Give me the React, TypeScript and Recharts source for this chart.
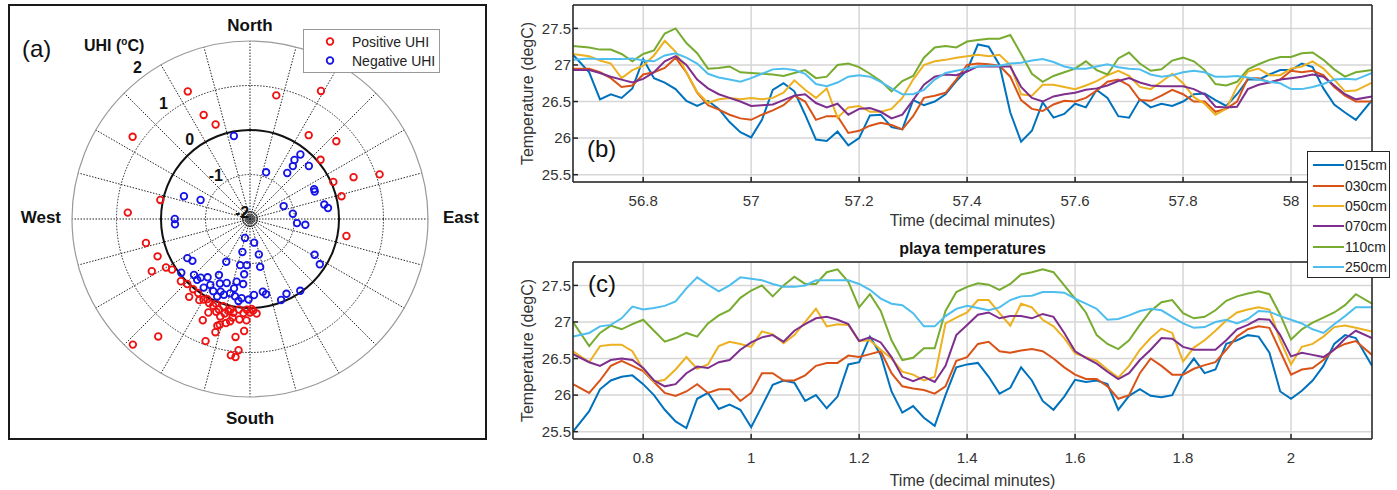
import React from "react";
import {
  CartesianGrid,
  Label,
  Legend,
  Line,
  LineChart,
  PolarAngleAxis,
  PolarGrid,
  PolarRadiusAxis,
  Radar,
  RadarChart,
  Scatter,
  ScatterChart,
  XAxis,
  YAxis,
} from "recharts";

// ---------- panel (a): UHI by wind direction ----------
const compass = ["North", "East", "South", "West"];
const uhiTicks = [-2, -1, 0, 1, 2];
const spokeAngles = [0, 15, 30, 45, 60, 75, 90, 105, 120, 135, 150, 165, 180, 195, 210, 225, 240, 255, 270, 285, 300, 315, 330, 345];
const uhiGroups = ["Positive UHI", "Negative UHI"];

// [direction (deg from north, clockwise), UHI degC]
const positiveUhi: [number, number][] = [
  [334, 1.19], [12, 0.84], [29, 1.29], [336, 0.56], [340, 0.26], [305, 1.22],
  [35, 0.3], [48, 0.61], [50, 0.07], [68, 0.51], [71, 1.08], [66, 0.05],
  [76, 0.12], [100, 0.2], [282, 0.06], [273, 0.75], [257, 0.4], [248, 0.24],
  [242, 0.5], [240, 0.18], [237, 0.09], [228, 0.09], [224, 0.03], [218, 0.22],
  [215, 0.03], [223, 1.86], [218, 1.35], [200, 0.92], [205, 0.51], [197, 0.51],
  [197, 0.66], [196, 0.47], [191, 0.34], [186, 0.27], [182, 0.28], [176, 0.13],
  [183, 0.52], [187, 0.67], [188, 1.09], [186, 1.12], [185, 0.96], [182, 0.04],
  [210, 0.09], [206, 0.1], [203, 0.12], [199, 0.15], [197, 0.05], [193, 0.13],
  [190, 0.14], [187, 0.05], [184, 0.12], [179, 0.02], [197, 0.29], [190, 0.25],
  [219, 0.03], [208, 0.04], [202, 0.05], [195, 0.2], [192, 0.08], [200, 0.22],
  [212, 0.15], [180, 0.1], [178, 0.06], [204, 0.3], [193, 0.4],
];

const negativeUhi: [number, number][] = [
  [349, -0.1], [19, -0.89], [39, -0.67], [39, -0.47], [37, -0.34], [38, -0.16],
  [48, -0.22], [65, -0.41], [67, -0.42], [79, -0.3], [82, -0.23], [69, -1.19],
  [83, -1.03], [95, -0.94], [96, -0.75], [289, -0.43], [291, -0.81], [270, -0.31],
  [266, -0.31], [195, -1.56], [170, -1.46], [193, -1.24], [166, -1.18], [238, -0.34],
  [234, -0.4], [209, -0.9], [192, -0.94], [184, -0.96], [168, -0.9], [186, -0.75],
  [119, -0.34], [123, -0.13], [145, -0.03], [154, -0.13], [159, -0.05], [170, -0.34],
  [168, -0.27], [177, -0.29], [232, -0.04], [225, -0.22], [220, -0.28], [216, -0.38],
  [209, -0.56], [205, -0.4], [214, -0.14], [207, -0.18], [202, -0.24], [195, -0.27],
  [192, -0.56], [186, -0.53], [221, -0.19], [191, -0.23], [186, -0.21], [181, -0.19],
  [200, -0.47], [193, -0.4], [199, -0.2], [203, -0.11], [188, -0.14], [211, -0.27],
];

// ---------- panels (b) and (c): playa temperatures ----------
const depths = ["015cm", "030cm", "050cm", "070cm", "110cm", "250cm"];
const depthColors = ["#0072BD", "#D95319", "#EDB120", "#7E2F8E", "#77AC30", "#4DBEEE"];
const tempTicks = [25.5, 26, 26.5, 27, 27.5];
const ticksB = [56.8, 57, 57.2, 57.4, 57.6, 57.8, 58];
const ticksC = [0.8, 1, 1.2, 1.4, 1.6, 1.8, 2];

const timesB = [
  56.67, 56.7, 56.72, 56.74, 56.76, 56.78, 56.8, 56.82, 56.84, 56.86,
  56.88, 56.9, 56.92, 56.94, 56.96, 56.98, 57, 57.02, 57.04, 57.06,
  57.08, 57.1, 57.12, 57.14, 57.16, 57.18, 57.2, 57.22, 57.24, 57.26,
  57.28, 57.3, 57.32, 57.34, 57.36, 57.38, 57.4, 57.42, 57.44, 57.46,
  57.48, 57.5, 57.52, 57.54, 57.56, 57.58, 57.6, 57.62, 57.64, 57.66,
  57.68, 57.7, 57.72, 57.74, 57.76, 57.78, 57.8, 57.82, 57.84, 57.86,
  57.88, 57.9, 57.92, 57.94, 57.96, 57.98, 58, 58.02, 58.04, 58.06,
  58.08, 58.1, 58.12, 58.15,
];

const b015 = [
  27.14, 26.9, 26.53, 26.6, 26.55, 26.68, 27.08, 26.82, 26.76, 26.67,
  26.51, 26.44, 26.51, 26.4, 26.22, 26.08, 26.01, 26.25, 26.66, 26.75,
  26.64, 26.32, 25.98, 25.96, 26.09, 25.9, 26.0, 26.31, 26.32, 26.15,
  26.12, 26.52, 26.45, 26.5, 26.6, 26.78, 26.93, 27.28, 27.25, 27.0,
  26.35, 25.95, 26.1, 26.49, 26.28, 26.33, 26.47, 26.42, 26.66, 26.55,
  26.3, 26.28, 26.53, 26.42, 26.47, 26.44, 26.5, 26.6, 26.61, 26.52,
  26.44, 26.6, 26.8, 26.8, 26.87, 26.93, 26.93, 27.02, 26.97, 26.68,
  26.46, 26.35, 26.25, 26.52,
];
const b030 = [
  26.95, 26.95, 26.9, 26.82, 26.7, 26.72, 26.87, 26.9, 26.96, 27.1,
  26.9, 26.62, 26.45, 26.39, 26.32, 26.27, 26.25, 26.32, 26.38, 26.45,
  26.58, 26.5, 26.25, 26.3, 26.3, 26.07, 26.1, 26.17, 26.21, 26.18,
  26.12, 26.3, 26.55, 26.58, 26.62, 26.8, 27.0, 27.02, 27.01, 26.99,
  26.84, 26.52, 26.4, 26.37, 26.46, 26.51, 26.5, 26.55, 26.65, 26.77,
  26.8, 26.72, 26.52, 26.51, 26.58, 26.66, 26.6, 26.5, 26.5, 26.36,
  26.4, 26.5, 26.82, 26.82, 26.76, 26.8, 26.92, 26.9, 26.92, 26.86,
  26.7, 26.58, 26.5, 26.5,
];
const b050 = [
  27.15, 27.12, 27.06, 27.02, 26.82, 26.93, 26.99, 27.13, 27.33, 27.18,
  26.9, 26.63, 26.48, 26.53, 26.55, 26.53, 26.55, 26.53, 26.55, 26.62,
  26.79, 26.66, 26.55, 26.68, 26.28, 26.42, 26.44, 26.36, 26.36, 26.4,
  26.55, 26.8, 27.0, 27.05, 27.07, 27.1, 27.12, 27.14, 27.12, 27.14,
  27.0, 26.6, 26.58, 26.73, 26.73, 26.7, 26.67, 26.72, 26.78, 26.86,
  26.92, 26.85, 26.7, 26.67, 26.77, 26.88, 26.75, 26.56, 26.47, 26.32,
  26.4, 26.7, 26.91, 26.95, 26.86, 26.86, 26.95, 26.98, 27.05, 26.95,
  26.8, 26.64, 26.65, 26.76,
];
const b070 = [
  26.93, 26.93, 26.89, 26.84, 26.8, 26.76, 26.81, 26.9, 27.05, 27.12,
  27.0, 26.8, 26.68, 26.6, 26.55, 26.5, 26.44, 26.45, 26.46, 26.52,
  26.58, 26.6, 26.48, 26.42, 26.47, 26.32, 26.4, 26.41, 26.36, 26.27,
  26.32, 26.52, 26.73, 26.84, 26.87, 26.86, 26.91, 26.98, 26.98, 26.98,
  26.98, 26.7, 26.55, 26.5, 26.57, 26.6, 26.62, 26.66, 26.68, 26.72,
  26.78, 26.82, 26.76, 26.72, 26.71, 26.71, 26.71, 26.67, 26.6, 26.43,
  26.42, 26.43, 26.67, 26.73, 26.76, 26.8, 26.82, 26.84, 26.87, 26.84,
  26.72, 26.6, 26.53, 26.57,
];
const b110 = [
  27.26, 27.24, 27.21, 27.21, 27.15, 27.05, 27.15, 27.2, 27.43, 27.5,
  27.3, 27.16, 26.95, 26.96, 26.98, 26.9, 26.89, 26.88, 26.87, 26.85,
  26.89, 26.93, 26.82, 26.84, 27.0, 27.02, 26.97, 26.88, 26.78, 26.64,
  26.78, 26.85, 27.1, 27.24, 27.26, 27.24, 27.32, 27.34, 27.36, 27.36,
  27.41, 27.15, 26.88, 26.77, 26.85, 26.9, 26.95, 27.05, 26.93, 26.87,
  27.09, 27.17, 27.02, 26.92, 26.94, 27.06, 27.1, 27.05, 26.93, 26.74,
  26.72, 26.77, 26.94, 27.01, 27.07, 27.11, 27.11, 27.16, 27.17, 27.07,
  26.94, 26.84, 26.9, 26.93,
];
const b250 = [
  27.07, 27.09, 27.08, 27.08, 27.08, 27.09, 27.06, 27.05, 27.13, 27.16,
  27.1, 27.02, 26.88, 26.83, 26.8, 26.77, 26.82, 26.88, 26.94, 26.95,
  26.93, 26.88, 26.74, 26.71, 26.76, 26.84, 26.86, 26.84, 26.77, 26.68,
  26.6, 26.6, 26.66, 26.8, 26.89, 26.92, 26.95, 26.98, 26.99, 26.99,
  27.02, 27.03, 27.06, 27.08, 27.04, 26.98, 26.95, 26.95, 26.98, 27.01,
  26.97, 26.95, 26.94, 26.87, 26.84, 26.86, 26.9, 26.92, 26.9, 26.84,
  26.84, 26.85, 26.83, 26.8, 26.77, 26.75, 26.67, 26.67, 26.7, 26.74,
  26.8, 26.81, 26.8, 26.89,
];

const timesC = [
  0.67, 0.7, 0.72, 0.74, 0.76, 0.78, 0.8, 0.82, 0.84, 0.86,
  0.88, 0.9, 0.92, 0.94, 0.96, 0.98, 1, 1.02, 1.04, 1.06,
  1.08, 1.1, 1.12, 1.14, 1.16, 1.18, 1.2, 1.22, 1.24, 1.26,
  1.28, 1.3, 1.32, 1.34, 1.36, 1.38, 1.4, 1.42, 1.44, 1.46,
  1.48, 1.5, 1.52, 1.54, 1.56, 1.58, 1.6, 1.62, 1.64, 1.66,
  1.68, 1.7, 1.72, 1.74, 1.76, 1.78, 1.8, 1.82, 1.84, 1.86,
  1.88, 1.9, 1.92, 1.94, 1.96, 1.98, 2, 2.02, 2.04, 2.06,
  2.08, 2.1, 2.12, 2.15,
];

const c015 = [
  25.5, 25.78, 26.08, 26.2, 26.25, 26.27, 26.15, 26.0, 25.8, 25.64,
  25.55, 25.95, 26.03, 25.81, 25.87, 25.8, 25.56, 25.85, 26.14, 26.2,
  26.17, 25.92, 26.0, 25.82, 25.98, 26.42, 26.45, 26.8, 26.55, 26.05,
  25.76, 25.85, 25.69, 25.58, 26.0, 26.38, 26.42, 26.44, 26.25, 26.02,
  26.1, 26.38, 26.2, 25.92, 25.8, 25.98, 26.21, 26.18, 26.2, 26.15,
  25.8, 25.99, 26.08, 25.99, 25.97, 26.0, 26.3, 26.5, 26.3, 26.35,
  26.7, 26.75, 26.82, 26.8, 26.58, 26.05, 25.95, 26.06, 26.2, 26.4,
  26.7, 26.82, 26.78, 26.4,
];
const c030 = [
  26.15, 26.03, 26.2, 26.4, 26.47, 26.4, 26.33, 26.18, 26.03, 25.99,
  26.05, 26.15, 26.03, 26.08, 26.08, 25.92, 26.03, 26.3, 26.3, 26.2,
  26.2, 26.27, 26.4, 26.44, 26.44, 26.54, 26.52, 26.56, 26.6, 26.3,
  26.12, 26.09, 26.07, 26.02, 26.12, 26.47, 26.52, 26.7, 26.73, 26.6,
  26.58, 26.61, 26.63, 26.6, 26.5, 26.38, 26.28, 26.22, 26.22, 26.12,
  25.95, 26.0, 26.3, 26.5, 26.4, 26.28, 26.28, 26.36, 26.41, 26.45,
  26.62, 26.8, 26.9, 26.94, 26.92, 26.6, 26.28, 26.35, 26.37, 26.48,
  26.63, 26.7, 26.74, 26.55,
];
const c050 = [
  26.6, 26.45, 26.67, 26.69, 26.69, 26.6, 26.35, 26.18, 26.21, 26.35,
  26.52, 26.36, 26.42, 26.67, 26.73, 26.7, 26.66, 26.87, 26.83, 26.71,
  26.82, 27.0, 27.18, 26.94, 26.97, 26.96, 26.74, 26.75, 26.62, 26.5,
  26.32, 26.28, 26.2, 26.25, 26.98, 27.06, 27.13, 27.3, 27.3, 27.12,
  26.95, 27.25, 27.2, 27.03, 26.94, 26.78, 26.57, 26.52, 26.47, 26.35,
  26.24, 26.4, 26.62, 26.78, 26.91, 26.85, 26.46, 26.65, 26.75, 26.88,
  27.02, 27.13, 27.17, 27.2, 27.17, 26.75, 26.42, 26.66, 26.7, 26.8,
  26.93, 26.95, 26.92, 26.87,
];
const c070 = [
  26.56, 26.45, 26.4, 26.48, 26.5, 26.48, 26.37, 26.2, 26.12, 26.15,
  26.3, 26.39, 26.37, 26.45, 26.48, 26.62, 26.72, 26.79, 26.82, 26.73,
  26.88, 26.97, 27.05, 27.07, 27.03, 26.97, 26.74, 26.79, 26.72, 26.52,
  26.25, 26.19, 26.25, 26.18, 26.4, 26.82, 26.96, 27.1, 27.13, 27.05,
  27.08, 27.08, 27.05, 27.11, 27.07, 26.85, 26.6, 26.51, 26.43, 26.32,
  26.22, 26.3, 26.48, 26.62, 26.78, 26.77, 26.66, 26.62, 26.62, 26.62,
  26.75, 26.9, 26.96, 27.04, 27.03, 26.82, 26.53, 26.58, 26.55, 26.52,
  26.62, 26.77, 26.88, 26.78,
];
const c110 = [
  27.0, 26.67, 26.85, 26.95, 26.9, 26.97, 27.03, 26.88, 26.73, 26.78,
  26.85, 26.8, 26.98, 27.09, 27.16, 27.33, 27.43, 27.5, 27.35, 27.5,
  27.62, 27.52, 27.52, 27.68, 27.72, 27.55, 27.2, 27.38, 27.15, 26.75,
  26.48, 26.51, 26.64, 26.64, 27.15, 27.41, 27.48, 27.53, 27.51, 27.44,
  27.52, 27.65, 27.68, 27.72, 27.68, 27.5, 27.32, 27.13, 26.82, 26.7,
  26.63, 26.75, 26.96, 27.15, 27.27, 27.3, 27.12, 27.05, 27.07, 27.16,
  27.29, 27.35, 27.39, 27.42, 27.38, 27.1, 26.76, 26.9, 26.99, 27.06,
  27.13, 27.23, 27.38, 27.25,
];
const c250 = [
  26.8, 26.85, 26.94, 26.96, 27.05, 27.21, 27.17, 27.19, 27.22, 27.28,
  27.46, 27.61, 27.51, 27.42, 27.5, 27.61, 27.59, 27.57, 27.52, 27.48,
  27.48, 27.5, 27.57, 27.57, 27.57, 27.57, 27.52, 27.44, 27.32, 27.25,
  27.23, 27.12, 26.94, 26.94, 27.08, 27.18, 27.22, 27.19, 27.16, 27.2,
  27.3, 27.35, 27.36, 27.41, 27.41, 27.4, 27.32, 27.25, 27.18, 27.03,
  27.04, 27.09, 27.15, 27.18, 27.16, 27.07, 26.98, 26.92, 26.93, 27.0,
  27.03, 26.98, 27.04, 27.15, 27.14, 27.08, 27.03, 26.98, 26.9, 26.85,
  26.97, 27.08, 27.2, 27.2,
];

const seriesB = [b015, b030, b050, b070, b110, b250];
const seriesC = [c015, c030, c050, c070, c110, c250];

function buildRows(times: number[], series: number[][]) {
  return times.map((t, i) => {
    const row: Record<string, number> = { t };
    depths.forEach((d, k) => {
      row[d] = series[k][i];
    });
    return row;
  });
}

const rowsB = buildRows(timesB, seriesB);
const rowsC = buildRows(timesC, seriesC);

// polar -> cartesian, radius measured from the -2 degC centre
function toXY(points: [number, number][]) {
  return points.map(([dir, uhi]) => {
    const r = uhi - uhiTicks[0];
    const a = (dir * Math.PI) / 180;
    return { x: r * Math.sin(a), y: r * Math.cos(a), dir, uhi };
  });
}

const CX = 250;
const CY = 219;
const OUTER = 178;
const ringR = (v: number) => ((v - uhiTicks[0]) / (uhiTicks[4] - uhiTicks[0])) * OUTER;
const R_MAX = uhiTicks[4] - uhiTicks[0];

const compassOffset: Record<string, { dx: number; dy: number; anchor: string }> = {
  North: { dx: 0, dy: -2, anchor: "middle" },
  East: { dx: 7, dy: 4, anchor: "start" },
  South: { dx: 0, dy: 19, anchor: "middle" },
  West: { dx: -3, dy: 4, anchor: "end" },
};

function CompassTick(props: any) {
  const { x, y, payload } = props;
  const o = compassOffset[payload.value] || { dx: 0, dy: 0, anchor: "middle" };
  return (
    <text x={x + o.dx} y={y + o.dy} textAnchor={o.anchor} fontSize={17} fontWeight={700} fill="#111">
      {payload.value}
    </text>
  );
}

function UhiTick(props: any) {
  const { x, y, payload } = props;
  return (
    <text x={x - 8} y={y - 1.5} textAnchor="middle" fontSize={16} fontWeight={700} fill="#111">
      {payload.value}
    </text>
  );
}

const ring = (color: string) => (p: any) =>
  <circle cx={p.cx} cy={p.cy} r={3.3} fill="none" stroke={color} strokeWidth={1.8} />;

function UhiLegend(props: any) {
  const items = [...(props.payload || [])].sort(
    (a: any, b: any) => uhiGroups.indexOf(a.value) - uhiGroups.indexOf(b.value)
  );
  return (
    <div style={{ border: "1px solid #999", background: "#fff", padding: "2px 0", boxSizing: "border-box", width: 137 }}>
      {items.map((e: any) => (
        <div key={e.value} style={{ display: "flex", alignItems: "center", height: 19, fontSize: 14, color: "#222" }}>
          <svg width={48} height={19}>
            <circle cx={26} cy={9.5} r={3.3} fill="none" stroke={e.color} strokeWidth={1.8} />
          </svg>
          <span>{e.value}</span>
        </div>
      ))}
    </div>
  );
}

function DepthLegend(props: any) {
  const items = [...(props.payload || [])].sort(
    (a: any, b: any) => depths.indexOf(a.value) - depths.indexOf(b.value)
  );
  return (
    <div style={{ border: "1.5px solid #262626", background: "#fff", padding: "3px 0", boxSizing: "border-box", width: 83, height: 127 }}>
      {items.map((e: any) => (
        <div key={e.value} style={{ display: "flex", alignItems: "center", height: 20.4, fontSize: 14, color: "#222" }}>
          <svg width={37} height={20}>
            <line x1={5} x2={36} y1={10} y2={10} stroke={e.color} strokeWidth={2} />
          </svg>
          <span>{e.value}</span>
        </div>
      ))}
    </div>
  );
}

const axisColor = "#262626";
const tickStyle = { fill: "#333", fontSize: 15 };

function TempChart({ rows, domain, ticks, top, withLegend }: any) {
  const height = top === 0 ? 235 : 250;
  const marginTop = top === 0 ? 4 : 21;
  const xAxisH = top === 0 ? 53 : 51;
  const xLabelOffset = top === 0 ? 9.5 : 4.5;
  return (
    <div style={{ position: "absolute", left: 490, top, zIndex: withLegend ? 2 : 1 }}>
      <LineChart width={900} height={height} data={rows} margin={{ top: marginTop, right: 17, bottom: 0, left: 0 }}>
        <CartesianGrid stroke="#d6d6d6" strokeWidth={1.5} />
        <XAxis
          dataKey="t"
          type="number"
          domain={domain}
          ticks={ticks}
          allowDataOverflow
          height={xAxisH}
          tickSize={-5}
          tickMargin={18}
          tick={tickStyle}
          stroke={axisColor}
          strokeWidth={1.5}
        >
          <Label value="Time (decimal minutes)" position="insideBottom" offset={xLabelOffset} fill="#333" fontSize={16} />
        </XAxis>
        <XAxis
          xAxisId="top"
          orientation="top"
          dataKey="t"
          type="number"
          domain={domain}
          ticks={ticks}
          allowDataOverflow
          height={1}
          tick={false}
          tickSize={-5}
          stroke={axisColor}
          strokeWidth={1.5}
        />
        <YAxis
          type="number"
          domain={[25.4, 27.82]}
          ticks={tempTicks}
          allowDataOverflow
          width={83}
          tickSize={-5}
          tickMargin={7}
          tick={tickStyle}
          stroke={axisColor}
          strokeWidth={1.5}
        >
          <Label
            value="Temperature (degC)"
            position="insideLeft"
            angle={-90}
            offset={37}
            fill="#333"
            fontSize={16}
            style={{ textAnchor: "middle" }}
          />
        </YAxis>
        <YAxis
          yAxisId="right"
          orientation="right"
          type="number"
          domain={[25.4, 27.82]}
          ticks={tempTicks}
          allowDataOverflow
          width={1}
          tick={false}
          tickSize={-5}
          stroke={axisColor}
          strokeWidth={1.5}
        />
        {withLegend && (
          <Legend
            layout="vertical"
            align="center"
            verticalAlign="middle"
            content={DepthLegend}
            wrapperStyle={{ left: 817, top: 151, width: 83, height: 127 }}
          />
        )}
        {depths.map((d, k) => (
          <Line
            key={d}
            dataKey={d}
            name={d}
            stroke={depthColors[k]}
            strokeWidth={2}
            dot={false}
            isAnimationActive={false}
          />
        ))}
      </LineChart>
    </div>
  );
}

export default function App() {
  const posPts = toXY(positiveUhi);
  const negPts = toXY(negativeUhi);
  return (
    <div
      style={{
        position: "absolute",
        left: 0,
        top: 0,
        width: 1397,
        height: 490,
        background: "#fff",
        fontFamily: '"Liberation Sans", Arial, sans-serif',
        overflow: "hidden",
      }}
    >
      {/* panel (a) frame */}
      <div
        style={{
          position: "absolute",
          left: 8,
          top: 4,
          width: 479,
          height: 436,
          border: "2px solid #1a1a1a",
          boxSizing: "border-box",
        }}
      />
      <div style={{ position: "absolute", left: 0, top: 0 }}>
        <RadarChart
          width={500}
          height={450}
          cx={CX}
          cy={CY}
          innerRadius={0}
          outerRadius={OUTER}
          startAngle={90}
          endAngle={-270}
          margin={{ top: 0, right: 0, bottom: 0, left: 0 }}
          data={compass.map((c) => ({ dir: c, centre: uhiTicks[0] }))}
        >
          <PolarGrid
            gridType="circle"
            polarAngles={spokeAngles}
            polarRadius={[ringR(-1), ringR(1)]}
            stroke="#222"
            strokeWidth={1}
            strokeDasharray="1.5 1.5"
          />
          <PolarGrid gridType="circle" radialLines={false} polarAngles={[]} polarRadius={[ringR(0)]} stroke="#111" strokeWidth={2} />
          <PolarGrid gridType="circle" radialLines={false} polarAngles={[]} polarRadius={[ringR(2)]} stroke="#9a9a9a" strokeWidth={1.2} />
          <PolarGrid gridType="circle" radialLines={false} polarAngles={[]} polarRadius={[2.5, 5, 7.5]} stroke="#222" strokeWidth={1} />
          <PolarAngleAxis dataKey="dir" axisLine={false} tickLine={false} tick={CompassTick} />
          <PolarRadiusAxis
            angle={126}
            type="number"
            domain={[uhiTicks[0], uhiTicks[4]]}
            ticks={uhiTicks}
            tickCount={5}
            allowDataOverflow
            axisLine={false}
            tick={UhiTick}
          />
          <Radar dataKey="centre" stroke="none" fill="none" dot={false} legendType="none" isAnimationActive={false} />
        </RadarChart>
      </div>
      <div style={{ position: "absolute", left: 0, top: 0 }}>
        <ScatterChart width={500} height={450} margin={{ top: CY - OUTER, right: 500 - CX - OUTER, bottom: 450 - CY - OUTER, left: CX - OUTER }}>
          <XAxis type="number" dataKey="x" domain={[-R_MAX, R_MAX]} allowDataOverflow hide />
          <YAxis type="number" dataKey="y" domain={[-R_MAX, R_MAX]} allowDataOverflow hide />
          <Legend
            layout="vertical"
            align="center"
            verticalAlign="middle"
            content={UhiLegend}
            wrapperStyle={{ left: 303, top: 29, width: 137, height: 42 }}
          />
          <Scatter name="Positive UHI" data={posPts} fill="#ee1111" shape={ring("#ee1111")} isAnimationActive={false} />
          <Scatter name="Negative UHI" data={negPts} fill="#1414e6" shape={ring("#1414e6")} isAnimationActive={false} />
        </ScatterChart>
      </div>
      <div style={{ position: "absolute", left: 22, top: 37, fontSize: 24, lineHeight: "24px", color: "#111" }}>(a)</div>
      <div style={{ position: "absolute", left: 84, top: 33, fontSize: 16, lineHeight: "18px", fontWeight: 700, color: "#111" }}>
        UHI (<sup style={{ fontSize: 10 }}>o</sup>C)
      </div>

      <TempChart rows={rowsB} domain={[56.67, 58.15]} ticks={ticksB} top={0} withLegend />
      <TempChart rows={rowsC} domain={[0.67, 2.15]} ticks={ticksC} top={240} withLegend={false} />

      <div style={{ position: "absolute", left: 587, top: 137, fontSize: 24, lineHeight: "24px", color: "#111", zIndex: 3 }}>(b)</div>
      <div style={{ position: "absolute", left: 588, top: 272, fontSize: 24, lineHeight: "24px", color: "#111", zIndex: 3 }}>(c)</div>
      <div
        style={{
          position: "absolute",
          left: 573,
          width: 799,
          top: 241,
          textAlign: "center",
          fontSize: 16,
          lineHeight: "16px",
          fontWeight: 700,
          color: "#111",
          zIndex: 3,
        }}
      >
        playa temperatures
      </div>
    </div>
  );
}
